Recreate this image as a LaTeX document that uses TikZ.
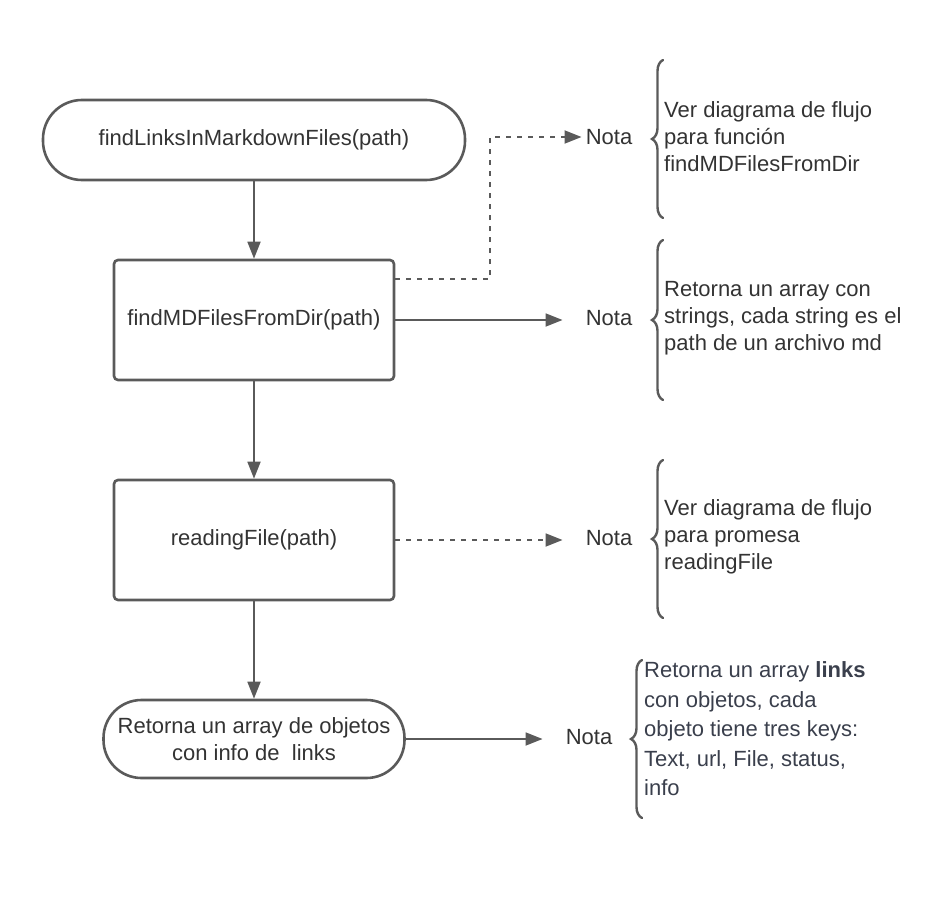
\documentclass[tikz,border=0pt]{standalone}
\usepackage{fontspec}
\setmainfont{Liberation Sans}
\usetikzlibrary{arrows.meta,decorations.pathreplacing}
\definecolor{ln}{HTML}{5A5A5A}
\definecolor{tx}{HTML}{333333}
\definecolor{nt}{HTML}{3A3F4C}
\begin{document}
\begin{tikzpicture}[x=1pt,y=-1pt,
  every node/.style={text=tx,font=\fontsize{22}{27}\selectfont},
  term/.style={draw=ln,line width=2.6pt,rounded corners=39pt,minimum width=#1,minimum height=80pt,align=center},
  proc/.style={draw=ln,line width=2.6pt,rounded corners=4pt,minimum width=280pt,minimum height=120pt},
  conn/.style={draw=ln,line width=1.8pt,-{Triangle[length=17pt,width=13pt]}},
  dotconn/.style={conn,dash pattern=on 5pt off 6pt},
  nota/.style={inner ysep=2pt,inner xsep=#1},
  notetext/.style={anchor=west,align=left,inner sep=0pt},
  bracestyle/.style={draw=ln,line width=2.4pt,line cap=round,decorate,decoration={brace,amplitude=11pt}}]
\useasboundingbox (0,0) rectangle (936,896);

\node[term=422pt] (t1) at (254,140) {findLinksInMarkdownFiles(path)};
\node[proc] (b2) at (254,320) {findMDFilesFromDir(path)};
\node[proc] (b3) at (254,540) {readingFile(path)};
\node[term=301pt,minimum height=78pt,rounded corners=38pt,font=\fontsize{22}{27}\selectfont] (t4) at (254,739) {Retorna un array de objetos\\con info de\ \ links};

\draw[conn] (t1) -- (b2);
\draw[conn] (b2) -- (b3);
\draw[conn] (b3) -- (t4);

\node[nota=4pt] (n1) at (609,137) {Nota};
\node[nota=23pt] (n2) at (609,318) {Nota};
\node[nota=23pt] (n3) at (609,538) {Nota};
\node[nota=23pt] (n4) at (589,737) {Nota};

\draw[dotconn] ([yshift=41pt]b2.east) -- ++(95pt,0) |- (n1.west);
\draw[conn] (b2.east) -- (b2.east -| n2.west);
\draw[dotconn] (b3.east) -- (b3.east -| n3.west);
\draw[conn] (t4.east) -- (t4.east -| n4.west);

\coordinate (a1) at (663,218); \coordinate (z1) at (663,60);
\coordinate (a2) at (663,400); \coordinate (z2) at (663,240);
\coordinate (a3) at (663,618); \coordinate (z3) at (663,460);
\coordinate (a4) at (642,818); \coordinate (z4) at (642,660);
\draw[bracestyle] (a1) -- (z1);
\draw[bracestyle] (a2) -- (z2);
\draw[bracestyle] (a3) -- (z3);
\draw[bracestyle] (a4) -- (z4);

\node[notetext] (m1) at (664,137) {Ver diagrama de flujo\\para función\\findMDFilesFromDir};
\node[notetext] (m2) at (664,318) {Retorna un array con\\strings, cada string es el\\path de un archivo md};
\node[notetext] (m3) at (664,537) {Ver diagrama de flujo\\para promesa\\readingFile};
\node[notetext,text=nt,font=\fontsize{22}{29.5}\selectfont] (m4) at (644,729) {Retorna un array \textbf{links}\\con objetos, cada\\objeto tiene tres keys:\\Text, url, File, status,\\info};
\end{tikzpicture}
\end{document}
